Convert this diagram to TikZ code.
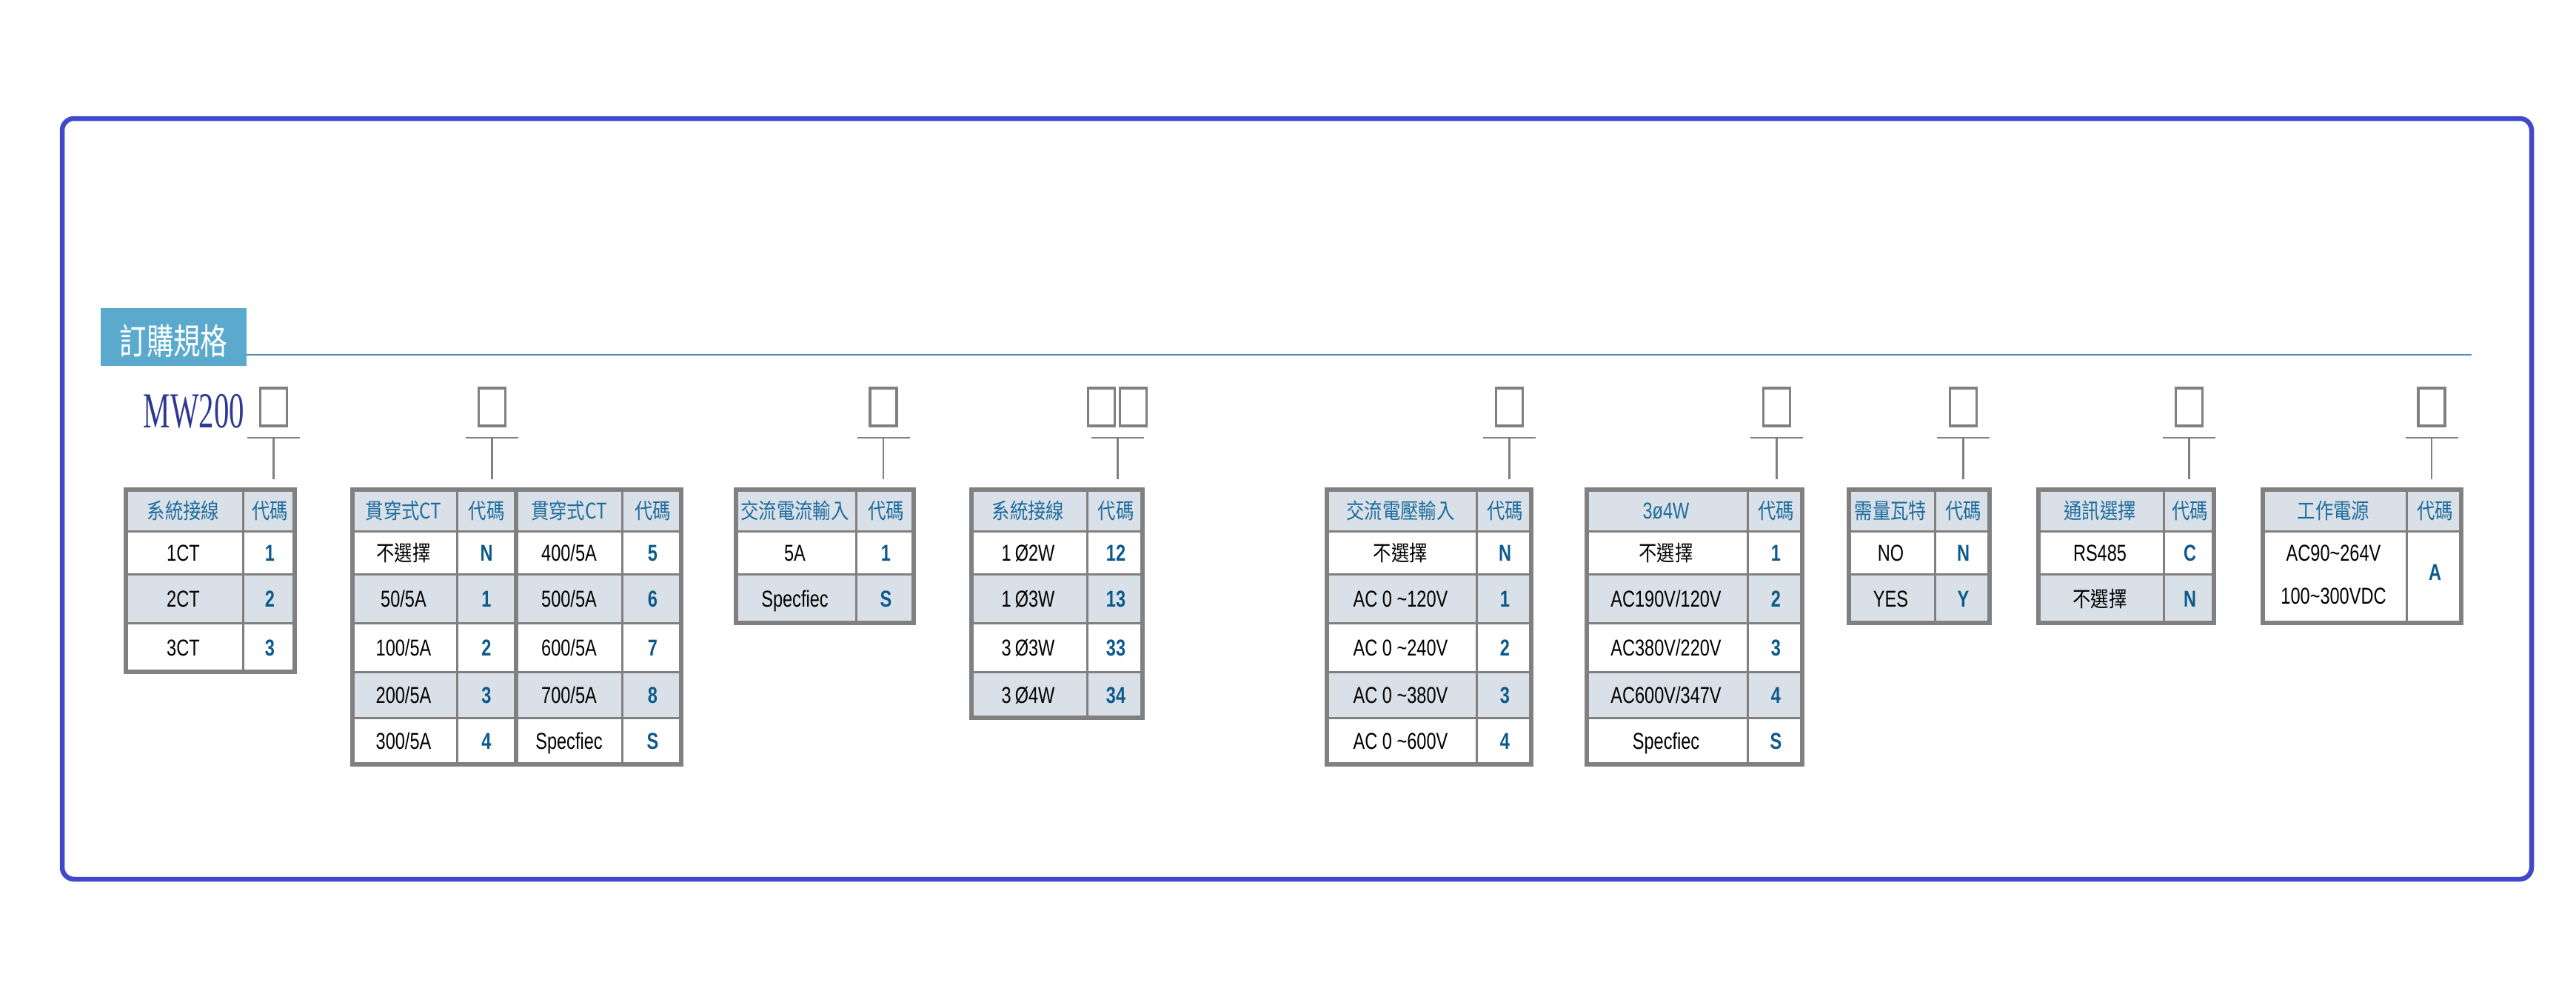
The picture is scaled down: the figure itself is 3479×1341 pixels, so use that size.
\documentclass[tikz,border=0pt]{standalone}
\usepackage{fontspec}
\newfontfamily\bodyfont{Liberation Sans}[FakeStretch=0.76]
\newfontfamily\cjkfont{Noto Sans CJK TC}[FakeStretch=0.84]
\newfontfamily\titlefont{Noto Sans CJK TC}[FakeStretch=0.76]
\newfontfamily\mwfont{Liberation Serif}[FakeStretch=0.6]
\newcommand\zh[1]{{\cjkfont\fontsize{29}{34}\selectfont #1}}

\definecolor{frameblue}{RGB}{64,72,204}
\definecolor{hdrblue}{RGB}{91,170,206}
\definecolor{rulecol}{RGB}{80,140,178}
\definecolor{mwblue}{RGB}{46,57,146}
\definecolor{gridgray}{RGB}{128,128,128}
\definecolor{hdrfill}{RGB}{217,224,231}
\definecolor{headtext}{RGB}{30,108,158}
\definecolor{codetext}{RGB}{12,90,140}

\tikzset{
  frameline/.style={draw=frameblue, line width=6.5pt, rounded corners=16pt},
  codebox/.style={draw=gridgray, line width=3.5pt, minimum width=36pt, minimum height=51pt, inner sep=0pt},
  tbar/.style={draw=gridgray, line width=2.5pt},
  gridline/.style={draw=gridgray, line width=3pt},
  tabframe/.style={draw=gridgray, line width=6pt},
  cell/.style={font=\bodyfont\fontsize{31}{36}\selectfont, inner sep=0pt, text height=22pt, text depth=0pt},
  headcell/.style={font=\cjkfont\fontsize{29}{34}\selectfont, text=headtext, inner sep=0pt, text height=25pt, text depth=3pt},
  codecell/.style={font=\bodyfont\bfseries\fontsize{31}{36}\selectfont, text=codetext, inner sep=0pt, text height=22pt, text depth=0pt},
}

% left, divider, right, number of rows
\newcommand\codetable[4]{%
  \fill[hdrfill] (#1,661) rectangle (#3,717);
  \foreach \r in {2,4}{\ifnum\r>#4\else
    \pgfmathsetmacro\ya{{661,717,775,841,907,969,1032}[\r]}
    \pgfmathsetmacro\yb{{661,717,775,841,907,969,1032}[\r+1]}
    \fill[hdrfill] (#1,\ya) rectangle (#3,\yb);\fi}
  \foreach \r in {1,...,#4}{
    \pgfmathsetmacro\ya{{661,717,775,841,907,969,1032}[\r]}
    \draw[gridline] (#1,\ya) -- (#3,\ya);}
  \pgfmathsetmacro\yb{{661,717,775,841,907,969,1032}[#4+1]}
  \draw[gridline] (#2,661) -- (#2,\yb);
  \draw[tabframe] (#1+3,661) rectangle (#3-3,\yb);
}

\begin{document}
\begin{tikzpicture}[x=1pt, y=-1pt]
  \useasboundingbox (0,0) rectangle (3479,1341);
  \draw[frameline] (84,160) rectangle (3419,1187);

  % title
  \node[fill=hdrblue, minimum width=197pt, minimum height=78pt, inner sep=0pt] (hdr) at (234.5,455) {};
  \node[font=\titlefont\fontsize{48}{56}\selectfont, text=white, inner sep=0pt, text height=42pt, text depth=6pt] (hdr-text) at (234.5,460) {訂購規格};
  \coordinate (rule-end) at (3338,479);
  \draw[rulecol, line width=1.8pt] (hdr.east |- rule-end) -- (rule-end);

  % code boxes and T connectors
  \foreach \n/\x in {a/369.5,b/664.5,c/1193,e/2038.5,f/2399.5,g/2651.5,h/2956.5,i/3284}{
    \node[codebox] (box-\n) at (\x,549.5) {};
    \coordinate (bar-\n) at (\x,591);
    \coordinate (top-\n) at (\x,647);
    \draw[tbar] (bar-\n) ++(-35.5,0) -- ++(71,0);
    \draw[tbar] (bar-\n) -- (top-\n);
  }
  \node[codebox] (box-d1) at (1487.5,549.5) {};
  \node[codebox] (box-d2) at (1530.5,549.5) {};
  \coordinate (bar-d) at (1509.5,591);
  \coordinate (top-d) at (1509.5,647);
  \draw[tbar] (bar-d) ++(-35.5,0) -- ++(71,0);
  \draw[tbar] (bar-d) -- (top-d);

  \node[font=\mwfont\fontsize{68}{76}\selectfont, text=mwblue, inner sep=0pt, anchor=base east] (mw) at (330,577) {MW200};

  % tables
  \codetable{167}{328}{401}{3}
  \codetable{473}{617}{923}{5}
  \draw[gridline] (840,661) -- (840,1032);
  \draw[tabframe] (697,661) -- (697,1032);
  \codetable{991}{1156}{1237}{2}
  \codetable{1309}{1468}{1546}{4}
  \codetable{1789}{1994}{2071}{5}
  \codetable{2140}{2360}{2437}{5}
  \codetable{2494}{2613}{2690}{2}
  \codetable{2750}{2922}{2993}{2}
  \fill[hdrfill] (3053,661) rectangle (3327,717);
  \draw[gridline] (3053,717) -- (3327,717);
  \draw[gridline] (3250,661) -- (3250,841);
  \draw[tabframe] (3056,661) rectangle (3324,841);

  % table texts
  \node[headcell] (h-a1) at (247.5,689) {系統接線};
  \node[headcell] (h-a2) at (364.5,689) {代碼};
  \foreach \a/\b [count=\i] in {1CT/1,2CT/2,3CT/3}{
    \pgfmathsetmacro\yc{{689,746,808,874,938,1000}[\i]}
    \node[cell] (ta-\i) at (247.5,\yc) {\a};
    \node[codecell] (tac-\i) at (364.5,\yc) {\b};
  }

  \node[headcell] (h-b1) at (545,689) {貫穿式CT};
  \node[headcell] (h-b2) at (657,689) {代碼};
  \node[headcell] (h-b3) at (768.5,689) {貫穿式CT};
  \node[headcell] (h-b4) at (881.5,689) {代碼};
  \foreach \a/\b/\c/\d [count=\i] in {\zh{不選擇}/N/{400/5A}/5,{50/5A}/1/{500/5A}/6,{100/5A}/2/{600/5A}/7,{200/5A}/3/{700/5A}/8,{300/5A}/4/Specfiec/S}{
    \pgfmathsetmacro\yc{{689,746,808,874,938,1000}[\i]}
    \node[cell] (tb-\i) at (545,\yc) {\a};
    \node[codecell] (tbc-\i) at (657,\yc) {\b};
    \node[cell] (tbb-\i) at (768.5,\yc) {\c};
    \node[codecell] (tbbc-\i) at (881.5,\yc) {\d};
  }

  \node[headcell] (h-c1) at (1073.5,689) {交流電流輸入};
  \node[headcell] (h-c2) at (1196.5,689) {代碼};
  \foreach \a/\b [count=\i] in {5A/1,Specfiec/S}{
    \pgfmathsetmacro\yc{{689,746,808,874,938,1000}[\i]}
    \node[cell] (tc-\i) at (1073.5,\yc) {\a};
    \node[codecell] (tcc-\i) at (1196.5,\yc) {\b};
  }

  \node[headcell] (h-d1) at (1388.5,689) {系統接線};
  \node[headcell] (h-d2) at (1507,689) {代碼};
  \foreach \a/\b [count=\i] in {1\,Ø2W/12,1\,Ø3W/13,3\,Ø3W/33,3\,Ø4W/34}{
    \pgfmathsetmacro\yc{{689,746,808,874,938,1000}[\i]}
    \node[cell] (td-\i) at (1388.5,\yc) {\a};
    \node[codecell] (tdc-\i) at (1507,\yc) {\b};
  }

  \node[headcell] (h-e1) at (1891.5,689) {交流電壓輸入};
  \node[headcell] (h-e2) at (2032.5,689) {代碼};
  \foreach \a/\b [count=\i] in {\zh{不選擇}/N,AC 0 \textasciitilde120V/1,AC 0 \textasciitilde240V/2,AC 0 \textasciitilde380V/3,AC 0 \textasciitilde600V/4}{
    \pgfmathsetmacro\yc{{689,746,808,874,938,1000}[\i]}
    \node[cell] (te-\i) at (1891.5,\yc) {\a};
    \node[codecell] (tec-\i) at (2032.5,\yc) {\b};
  }

  \node[headcell, font=\bodyfont\fontsize{31}{36}\selectfont] (h-f1) at (2250,689) {3ø4W};
  \node[headcell] (h-f2) at (2398.5,689) {代碼};
  \foreach \a/\b [count=\i] in {\zh{不選擇}/1,{AC190V/120V}/2,{AC380V/220V}/3,{AC600V/347V}/4,Specfiec/S}{
    \pgfmathsetmacro\yc{{689,746,808,874,938,1000}[\i]}
    \node[cell] (tf-\i) at (2250,\yc) {\a};
    \node[codecell] (tfc-\i) at (2398.5,\yc) {\b};
  }

  \node[headcell] (h-g1) at (2553.5,689) {需量瓦特};
  \node[headcell] (h-g2) at (2651.5,689) {代碼};
  \foreach \a/\b [count=\i] in {NO/N,YES/Y}{
    \pgfmathsetmacro\yc{{689,746,808,874,938,1000}[\i]}
    \node[cell] (tg-\i) at (2553.5,\yc) {\a};
    \node[codecell] (tgc-\i) at (2651.5,\yc) {\b};
  }

  \node[headcell] (h-h1) at (2836,689) {通訊選擇};
  \node[headcell] (h-h2) at (2957.5,689) {代碼};
  \foreach \a/\b [count=\i] in {RS485/C,\zh{不選擇}/N}{
    \pgfmathsetmacro\yc{{689,746,808,874,938,1000}[\i]}
    \node[cell] (th-\i) at (2836,\yc) {\a};
    \node[codecell] (thc-\i) at (2957.5,\yc) {\b};
  }

  \node[headcell] (h-i1) at (3151.5,689) {工作電源};
  \node[headcell] (h-i2) at (3288.5,689) {代碼};
  \node[cell] (ti-1) at (3151.5,746) {AC90\textasciitilde264V};
  \node[cell] (ti-2) at (3151.5,804) {100\textasciitilde300VDC};
  \node[codecell] (tic-1) at (3288.5,772) {A};
\end{tikzpicture}
\end{document}
